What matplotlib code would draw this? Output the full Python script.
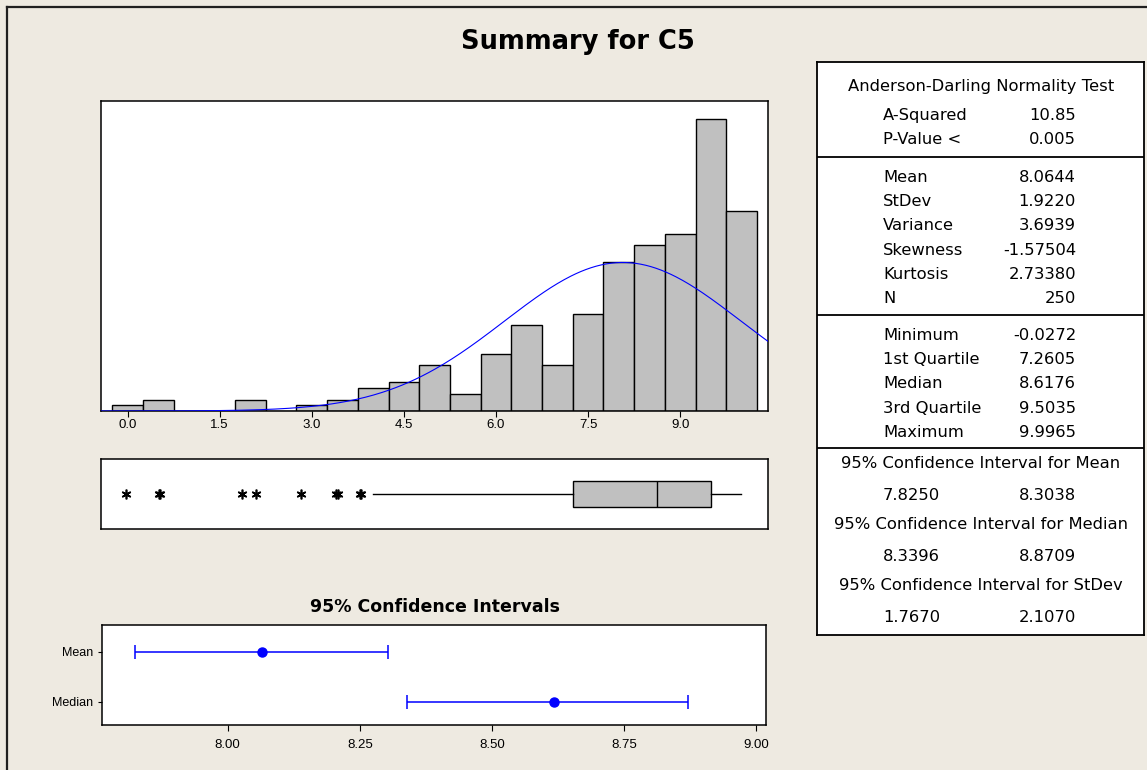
import numpy as np
import matplotlib.pyplot as plt
from matplotlib.lines import Line2D

W, H = 1147, 770
BG = '#EEEAE1'
GREY = '#C0C0C0'
BLUE = '#0000FF'
NARROW = ['Liberation Sans', 'DejaVu Sans']

# histogram (bins of width 0.5)
bin_mids = [0.0, 0.5, 1.0, 1.5, 2.0, 2.5, 3.0, 3.5, 4.0, 4.5, 5.0,
            5.5, 6.0, 6.5, 7.0, 7.5, 8.0, 8.5, 9.0, 9.5, 10.0]
counts = [1, 2, 0, 0, 2, 0, 1, 2, 4, 5, 8,
          3, 10, 15, 8, 17, 26, 29, 31, 51, 35]
hist_ticks = [0.0, 1.5, 3.0, 4.5, 6.0, 7.5, 9.0]

# summary stats
n_obs = 250
mean = 8.0644
stdev = 1.9220
q1, median, q3 = 7.2605, 8.6176, 9.5035
maximum = 9.9965
whisker_low = 3.99
outliers = [-0.0272, 0.51, 0.53, 1.87, 2.09, 2.82, 3.40, 3.43, 3.79, 3.81]

# confidence intervals
ci_names = ['Mean', 'Median']
ci_centers = [8.0644, 8.6176]
ci_low = [7.8250, 8.3396]
ci_high = [8.3038, 8.8709]
ci_ticks = [8.00, 8.25, 8.50, 8.75, 9.00]

# table text
ad_rows = [('A-Squared', '10.85'), ('P-Value <', '0.005')]
moment_rows = [('Mean', '8.0644'), ('StDev', '1.9220'), ('Variance', '3.6939'),
               ('Skewness', '-1.57504'), ('Kurtosis', '2.73380'), ('N', '250')]
quant_rows = [('Minimum', '-0.0272'), ('1st Quartile', '7.2605'), ('Median', '8.6176'),
              ('3rd Quartile', '9.5035'), ('Maximum', '9.9965')]
ci_rows = [('95% Confidence Interval for Mean', '7.8250', '8.3038'),
           ('95% Confidence Interval for Median', '8.3396', '8.8709'),
           ('95% Confidence Interval for StDev', '1.7670', '2.1070')]


def rect(l, t, r, b):
    return [l / W, 1 - b / H, (r - l) / W, (b - t) / H]


fig = plt.figure(figsize=(W / 100, H / 100), dpi=100, facecolor=BG)
plt.rcParams['font.family'] = ['DejaVu Sans']

# outer frame (left + top)
fig.add_artist(Line2D([7 / W, 7 / W], [0, 1 - 7 / H], color='#202020', lw=1.6))
fig.add_artist(Line2D([7 / W, 1], [1 - 7 / H, 1 - 7 / H], color='#202020', lw=1.6))

fig.text(578 / W, 1 - 42 / H, 'Summary for C5', ha='center', va='center',
         fontsize=18.5, fontweight='bold')

xl = (-0.432, 10.43)

# --- histogram
ax = fig.add_axes(rect(101, 101, 768, 411))
ax.bar(bin_mids, counts, width=0.5, color=GREY, edgecolor='black', linewidth=1.0, zorder=2)
xs = np.linspace(xl[0], xl[1], 400)
pdf = n_obs * 0.5 / (stdev * np.sqrt(2 * np.pi)) * np.exp(-0.5 * ((xs - mean) / stdev) ** 2)
ax.plot(xs, pdf, color=BLUE, lw=0.8, zorder=3)
ax.set_xlim(*xl)
ax.set_ylim(0, 54.15)
ax.set_yticks([])
ax.set_xticks(hist_ticks)
ax.set_xticklabels(['%.1f' % t for t in hist_ticks], family=NARROW, fontsize=9.5)
ax.tick_params(axis='x', length=4, width=0.8, pad=2)

# --- boxplot
bx = fig.add_axes(rect(101, 459, 768, 529))
stats = [dict(med=median, q1=q1, q3=q3, whislo=whisker_low, whishi=maximum, fliers=[])]
bx.bxp(stats, positions=[0.5], widths=0.36, vert=False, showcaps=False, patch_artist=True,
       boxprops=dict(facecolor=GREY, edgecolor='black', linewidth=1.0),
       medianprops=dict(color='black', linewidth=1.0),
       whiskerprops=dict(color='black', linewidth=1.0), showfliers=False)
bx.plot(outliers, [0.5] * len(outliers), linestyle='none', marker=(6, 2, 0),
        markersize=7, color='black', markeredgewidth=1.2)
bx.set_xlim(*xl)
bx.set_ylim(0, 1)
bx.set_xticks([])
bx.set_yticks([])

# --- confidence intervals
fig.text(435 / W, 1 - 607 / H, '95% Confidence Intervals', ha='center', va='center',
         fontsize=12.5, fontweight='bold')
cx = fig.add_axes(rect(101.8, 625, 766, 725))
ypos = [2, 1]
err = [np.array(ci_centers) - np.array(ci_low), np.array(ci_high) - np.array(ci_centers)]
cx.errorbar(ci_centers, ypos, xerr=err, fmt='o', color=BLUE, ecolor=BLUE,
            markersize=6.5, elinewidth=1.1, capsize=5, capthick=1.1)
cx.set_xlim(7.762, 9.018)
cx.set_ylim(0.53, 2.53)
cx.set_xticks(ci_ticks)
cx.set_xticklabels(['%.2f' % t for t in ci_ticks], family=NARROW, fontsize=9.5)
cx.set_yticks(ypos)
cx.set_yticklabels(ci_names, family=NARROW, fontsize=9)
cx.tick_params(axis='x', length=4, width=0.8, pad=6)
cx.tick_params(axis='y', length=3, width=0.8, pad=3)

for a in (ax, bx, cx):
    a.set_facecolor('white')
    for s in a.spines.values():
        s.set_linewidth(1.1)

# --- statistics table
tx = fig.add_axes(rect(817, 62, 1144, 635))
tx.set_xlim(817, 1144)
tx.set_ylim(635, 62)
tx.set_xticks([])
tx.set_yticks([])
tx.set_facecolor('white')
for s in tx.spines.values():
    s.set_linewidth(1.3)
for yy in (157, 315, 448):
    tx.axhline(yy, color='black', lw=1.3)

fs = 11.8
xc, xlab, xval = 981, 883, 1076
tx.text(xc, 86, 'Anderson-Darling Normality Test', ha='center', va='center', fontsize=fs)


def rows(items, y0):
    for i, (lab, val) in enumerate(items):
        y = y0 + i * 24.2
        tx.text(xlab, y, lab, ha='left', va='center', fontsize=fs)
        tx.text(xval, y, val, ha='right', va='center', fontsize=fs)


rows(ad_rows, 115.5)
rows(moment_rows, 177.6)
rows(quant_rows, 335.6)
for i, (head, lo, hi) in enumerate(ci_rows):
    y = 463.3 + i * 61.3
    tx.text(xc, y, head, ha='center', va='center', fontsize=fs)
    tx.text(xlab, y + 32, lo, ha='left', va='center', fontsize=fs)
    tx.text(xval, y + 32, hi, ha='right', va='center', fontsize=fs)

fig.savefig('out.png', dpi=100, facecolor=BG)
